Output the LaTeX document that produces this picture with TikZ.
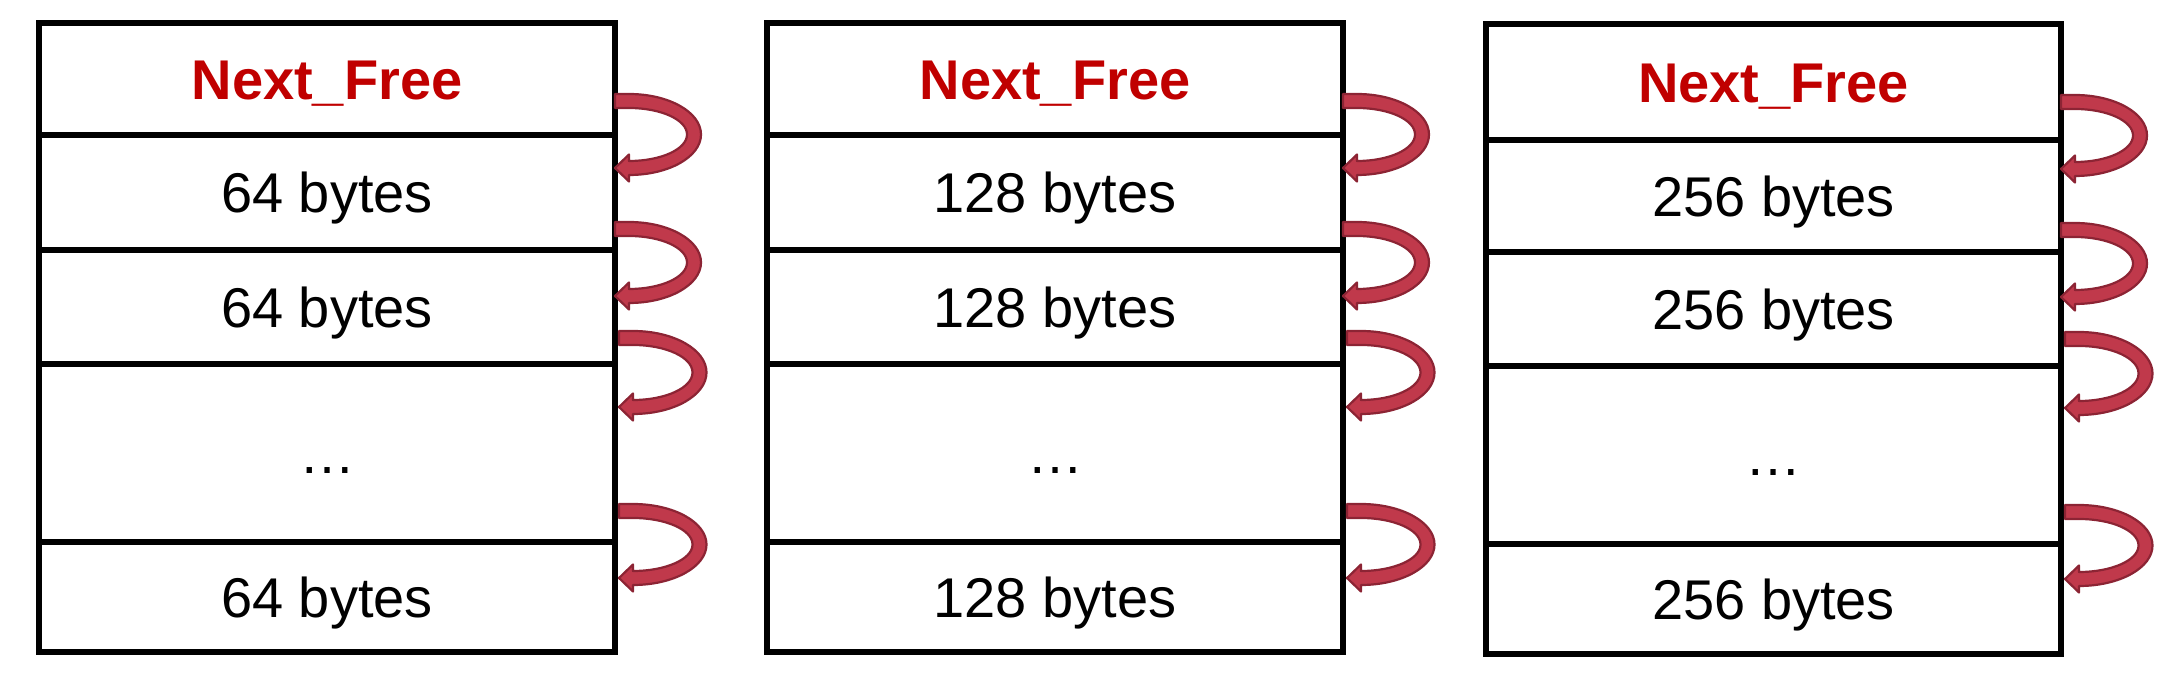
\documentclass[tikz,border=0pt]{standalone}
\usepackage{fontspec}
\setmainfont{Liberation Sans}
\definecolor{nfred}{RGB}{192,0,0}
\definecolor{arrfill}{RGB}{192,57,75}
\definecolor{arrline}{RGB}{140,36,52}
\tikzset{
  cell/.style={draw=black, line width=6pt, inner sep=0pt, text height=40.1pt,
    text depth=0pt, font=\fontsize{56}{60}\selectfont, line join=miter},
  headtxt/.style={text=nfred, font=\fontsize{56}{60}\selectfont\bfseries},
  curarr/.style={fill=arrfill, draw=arrline, line width=2.2pt, line join=round},
}
% a cell of a memory block: name, x left, x right, y top, y bottom (image px), text, style
\newcommand\mcell[7]{%
  \pgfmathsetmacro\mcX{(#2+#3)/2}%
  \pgfmathsetmacro\mcY{690-(#4+#5)/2}%
  \pgfmathsetmacro\mcW{#3-#2}%
  \pgfmathsetmacro\mcH{#5-#4}%
  \node[cell,#7,minimum width=\mcW pt,minimum height=\mcH pt] (#1) at (\mcX,\mcY) {#6};%
}
% curved block arrow: x start, y top (img), y tip (img), x radius
\newcommand\curarrow[4]{%
  \pgfmathsetmacro\cAx{#1}%
  \pgfmathsetmacro\cAxa{#1+14}%
  \pgfmathsetmacro\cAyt{690-(#2)}%
  \pgfmathsetmacro\cAyb{690-(#3)}%
  \pgfmathsetmacro\cAry{(\cAyt-\cAyb)/2}%
  \pgfmathsetmacro\cAro{#4+7}%
  \pgfmathsetmacro\cAri{#4-7}%
  \pgfmathsetmacro\cAso{\cAry+7}%
  \pgfmathsetmacro\cAsi{\cAry-7}%
  \pgfmathsetmacro\cAta{\cAyt+7}%
  \pgfmathsetmacro\cAtb{\cAyt-7}%
  \pgfmathsetmacro\cAhb{\cAyb-13.5}%
  \pgfmathsetmacro\cAhc{\cAyb+13.5}%
  \pgfmathsetmacro\cAbi{\cAyb+7}%
  \draw[curarr] (\cAx,\cAta) -- (\cAxa,\cAta)
    arc[start angle=90,end angle=-90,x radius=\cAro,y radius=\cAso]
    -- (\cAxa,\cAhb) -- (\cAx,\cAyb) -- (\cAxa,\cAhc) -- (\cAxa,\cAbi)
    arc[start angle=-90,end angle=90,x radius=\cAri,y radius=\cAsi]
    -- (\cAxa,\cAtb) -- (\cAx,\cAtb) -- cycle;%
}
\begin{document}
\begin{tikzpicture}[x=1pt,y=1pt]
\useasboundingbox (0,0) rectangle (2175,690);
\foreach \bx/\xl/\xr/\ya/\yb/\yc/\yd/\ye/\yf/\sz/\dy in {
  A/39/615/23.5/135.5/250/364/542/652/64/0,
  B/767/1343/23.5/135.5/250/364/542/652/128/0,
  C/1486/2061/24/140/252/366/544/654/256/1}{
  \mcell{\bx0}{\xl}{\xr}{\ya}{\yb}{Next\_Free}{headtxt}
  \mcell{\bx1}{\xl}{\xr}{\yb}{\yc}{\sz{} bytes}{}
  \mcell{\bx2}{\xl}{\xr}{\yc}{\yd}{\sz{} bytes}{}
  \mcell{\bx3}{\xl}{\xr}{\yd}{\ye}{…}{}
  \mcell{\bx4}{\xl}{\xr}{\ye}{\yf}{\sz{} bytes}{}
  \curarrow{\xr}{101+\dy}{168+\dy}{65}
  \curarrow{\xr}{229+\dy}{296+\dy}{65}
  \curarrow{\xr+4}{338+\dy}{407+\dy}{66.5}
  \curarrow{\xr+4}{511+\dy}{578+\dy}{66.5}
}
\end{tikzpicture}
\end{document}
